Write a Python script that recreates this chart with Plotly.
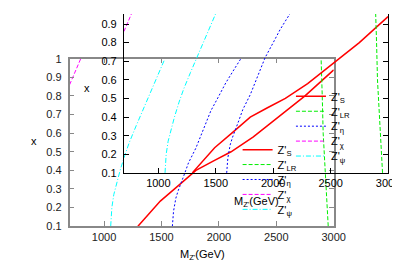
import plotly.graph_objects as go

# ---- data (M_Z' in GeV vs x) ----
s_m = [1295, 1400, 1490, 1642, 1800, 1950, 2106, 2300, 2529, 2750, 3000]
s_x = [0.10, 0.17, 0.235, 0.315, 0.40, 0.45, 0.50, 0.58, 0.69, 0.80, 0.94]
lr_m = [2952, 2930, 2915, 2908, 2900, 2890]
lr_x = [0.10, 0.35, 0.45, 0.60, 0.80, 1.00]
eta_m = [1595, 1605, 1625, 1645, 1700, 1735, 1800, 1930, 2000, 2060, 2120, 2191]
eta_x = [0.10, 0.18, 0.25, 0.29, 0.38, 0.44, 0.52, 0.72, 0.80, 0.87, 0.93, 1.00]
chi_m = [700, 760, 797]
chi_x = [0.86, 0.95, 1.00]
psi_m = [1058, 1068, 1085, 1110, 1140, 1180, 1220, 1280, 1350, 1430, 1530]
psi_x = [0.10, 0.20, 0.27, 0.33, 0.40, 0.48, 0.55, 0.64, 0.74, 0.86, 1.00]

names = ["Z'<sub>S</sub>", "Z'<sub>LR</sub>", "Z'<sub>η</sub>", "Z'<sub>χ</sub>", "Z'<sub>ψ</sub>"]
series = [(s_m, s_x), (lr_m, lr_x), (eta_m, eta_x), (chi_m, chi_x), (psi_m, psi_x)]
x_ticks = [1000, 1500, 2000, 2500, 3000]
y_ticks = [0.1, 0.2, 0.3, 0.4, 0.5, 0.6, 0.7, 0.8, 0.9, 1.0]
y_ticktext = ["0.1", "0.2", "0.3", "0.4", "0.5", "0.6", "0.7", "0.8", "0.9", "1"]

styles = [
    dict(color="#ff0000", width=1.5, dash="solid"),
    dict(color="#00ee00", width=1, dash="4px,2px"),
    dict(color="#0000ff", width=1, dash="2px,2px"),
    dict(color="#ff00ff", width=1, dash="4px,2px"),
    dict(color="#00ffff", width=1, dash="5px,2px,1px,2px"),
]

W, H = 400, 280
FONT = "Liberation Sans, Arial, sans-serif"

fig = go.Figure()

# two copies: (xaxis, yaxis, first legend index, legend sample-left px, first item centre px)
copies = [("x", "y", 1, 241.7, 141.7), ("x2", "y2", 6, 296.7, 86.0)]
legends = {}
for xa, ya, l0, sx, sy in copies:
    for i, (m, v) in enumerate(series):
        idx = l0 + i
        lname = "legend" if idx == 1 else f"legend{idx}"
        fig.add_trace(go.Scatter(x=m, y=v, mode="lines", line=styles[i], name=names[i],
                                 xaxis=xa, yaxis=ya, legend=lname, showlegend=True))
        legends[lname] = dict(x=(sx - 5) / W, y=1 - (sy + i * 15.6) / H,
                              xanchor="left", yanchor="middle",
                              bgcolor="rgba(0,0,0,0)", borderwidth=0,
                              font=dict(family=FONT, size=11, color="#000"))

gx0, gx1, gy0, gy1 = 63.5, 335.8, 221.7, 46.7
bx0, bx1, by0 = 119.5, 391.8, 166.0
black_ytop = 0.1 + by0 / 194.4

axis_common = dict(showgrid=False, zeroline=False, ticks="inside", ticklen=5, showline=True)
fig.update_layout(
    width=W, height=H, autosize=False,
    margin=dict(l=0, r=0, t=0, b=0),
    paper_bgcolor="white", plot_bgcolor="rgba(0,0,0,0)",
    font=dict(family=FONT, size=11, color="#000"),
    xaxis=dict(domain=[gx0 / W, gx1 / W], range=[700, 3000], anchor="y",
               tickvals=x_ticks, linecolor="#888", tickcolor="#888", linewidth=1.5,
               mirror="ticks", tickfont=dict(color="#222", size=11), **axis_common),
    yaxis=dict(domain=[1 - gy0 / H, 1 - gy1 / H], range=[0.1, 1.0], anchor="x",
               tickvals=y_ticks, ticktext=y_ticktext, linecolor="#888", tickcolor="#888",
               linewidth=1.5, mirror="ticks", tickfont=dict(color="#222", size=11),
               ticklabelstandoff=4, **axis_common),
    xaxis2=dict(domain=[bx0 / W, bx1 / W], range=[700, 3000], anchor="y2",
                tickvals=x_ticks, linecolor="#000", tickcolor="#000", linewidth=1,
                mirror=False, tickfont=dict(color="#000", size=11), **axis_common),
    yaxis2=dict(domain=[1 - by0 / H, 1.0], range=[0.1, black_ytop], anchor="x2",
                tickvals=y_ticks[:-1], ticktext=y_ticktext[:-1], linecolor="#000",
                tickcolor="#000", linewidth=1, mirror="ticks",
                tickfont=dict(color="#000", size=11), ticklabelstandoff=4, **axis_common),
    **legends,
)

ann = [
    dict(text="x", x=26.7 / W, y=1 - 132.5 / H),
    dict(text="x", x=81.7 / W, y=1 - 77 / H),
    dict(text="M<sub>Z'</sub>(GeV)", x=200 / W, y=1 - 251.7 / H),
    dict(text="M<sub>Z'</sub>(GeV)", x=256 / W, y=1 - 196.7 / H),
]
for a in ann:
    fig.add_annotation(xref="paper", yref="paper", showarrow=False,
                       xanchor="center", yanchor="middle",
                       font=dict(family=FONT, size=11, color="#000"), **a)

fig.write_html("out.html")
